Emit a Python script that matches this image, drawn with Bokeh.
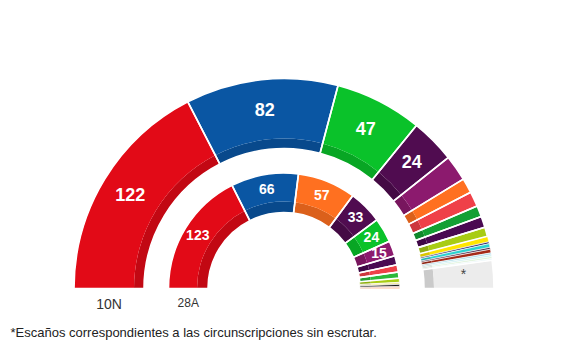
import math
from bokeh.plotting import figure
from bokeh.models import Range1d, ColumnDataSource
from bokeh.core.properties import value
from bokeh.embed import file_html
from bokeh.resources import INLINE

# ---------------- data ----------------
total_seats = 350

# 10N (outer ring, partial count; last = seats still to count)
outer_seats = [122, 82, 47, 24, 14, 8, 8, 6, 6, 5, 3, 1, 2, 1, 2, 1, 1, 1, 1, 15]
outer_labels = ["122", "82", "47", "24", "", "", "", "", "", "", "", "", "", "", "", "", "", "", "", ""]
pending_label = "*"

# 28A (inner ring)
inner_seats = [123, 66, 57, 33, 24, 15, 9, 7, 6, 4, 2, 2, 1, 1]
inner_labels = ["123", "66", "57", "33", "24", "15", "", "", "", "", "", "", "", ""]

ring_names = ["10N", "28A"]
footnote = "*Escaños correspondientes a las circunscripciones sin escrutar."

# ---------------- styles ----------------
outer_colors = ["#e20a17", "#0a56a3", "#0ac22a", "#500c50", "#8c1a6e", "#ff7020",
                "#ef4048", "#13a034", "#4a0a52", "#a8cc14", "#ffe600", "#2a1a5e",
                "#2ad2d0", "#3a1a40", "#a52a18", "#9fd8e8", "#c8eef0", "#d8f0d4",
                "#e8f4f8", "#ececec"]
inner_colors = ["#e20a17", "#0a56a3", "#ff7020", "#500c50", "#0ac22a", "#8c1a6e",
                "#4a0a52", "#ef4048", "#2cb83a", "#a8cc14", "#f2e8a0", "#1a1a1a",
                "#a52a18", "#ff7020"]

W, H = 565, 354
CX, CY = 283.5, H - 288

OUT_R0, OUT_R1, OUT_BAND = 140, 210, 10
IN_R0, IN_R1, IN_BAND = 76, 115.5, 11


def darken(hexcol, f):
    h = hexcol.lstrip("#")
    r, g, b = int(h[0:2], 16), int(h[2:4], 16), int(h[4:6], 16)
    return "#%02x%02x%02x" % (int(r * f), int(g * f), int(b * f))


def ring_source(seats, colors, labels, r0, r1, band):
    starts, ends, mids, lws = [], [], [], []
    cum = 0
    for s in seats:
        hi = math.pi * (1 - cum / total_seats)
        cum += s
        lo = math.pi * (1 - cum / total_seats)
        starts.append(lo)
        ends.append(hi)
        mids.append((lo + hi) / 2)
        lws.append(1.6 if s >= 5 else 0.5)
    rl = (r0 + band + r1) / 2
    lx = [CX + rl * math.cos(m) for m in mids]
    ly = [CY + rl * math.sin(m) for m in mids]
    band_colors = [darken(c, 0.86) for c in colors]
    return ColumnDataSource(dict(start=starts, end=ends, color=colors,
                                 band=band_colors, lw=lws, lx=lx, ly=ly,
                                 label=labels))


p = figure(width=W, height=H, x_range=Range1d(0, W), y_range=Range1d(0, H),
           output_backend="svg", toolbar_location=None, min_border=0)
p.xaxis.visible = False
p.yaxis.visible = False
p.grid.visible = False
p.outline_line_color = None
p.background_fill_color = "white"
p.border_fill_color = "white"

outer_src = None
for seats, colors, labels, r0, r1, band, fs in [
        (outer_seats, outer_colors, outer_labels, OUT_R0, OUT_R1, OUT_BAND, "18px"),
        (inner_seats, inner_colors, inner_labels, IN_R0, IN_R1, IN_BAND, "14px")]:
    src = ring_source(seats, colors, labels, r0, r1, band)
    if outer_src is None:
        outer_src = src
    p.annular_wedge(x=CX, y=CY, inner_radius=r0, outer_radius=r0 + band,
                    start_angle="start", end_angle="end", fill_color="band",
                    line_color=None, source=src)
    p.annular_wedge(x=CX, y=CY, inner_radius=r0 + band, outer_radius=r1,
                    start_angle="start", end_angle="end", fill_color="color",
                    line_color=None, source=src)
    p.annular_wedge(x=CX, y=CY, inner_radius=r0, outer_radius=r1,
                    start_angle="start", end_angle="end", fill_color=None,
                    line_color="white", line_width="lw", source=src)
    p.text(x="lx", y="ly", text="label", source=src, text_color="white",
           text_font=value("Liberation Sans"), text_font_size=fs,
           text_font_style="bold", text_align="center", text_baseline="middle")

# '*' on the pending-seats segment
p.text(x=[outer_src.data["lx"][-1]], y=[outer_src.data["ly"][-1] + 2],
       text=[pending_label], text_color="#444444",
       text_font=value("Liberation Sans"), text_font_size="14px",
       text_align="center", text_baseline="middle")

# ring names
p.text(x=[CX - (OUT_R0 + OUT_R1) / 2], y=[H - 303], text=[ring_names[0]],
       text_color="#333333", text_font=value("Liberation Sans"),
       text_font_size="14px", text_align="center", text_baseline="middle")
p.text(x=[CX - (IN_R0 + IN_R1) / 2], y=[H - 302], text=[ring_names[1]],
       text_color="#333333", text_font=value("Liberation Sans"),
       text_font_size="12px", text_align="center", text_baseline="middle")

p.text(x=[10], y=[H - 332], text=[footnote], text_color="#222222",
       text_font=value("Liberation Sans"), text_font_size="13px",
       text_align="left", text_baseline="middle")

open("out.html", "w").write(file_html(p, INLINE))
